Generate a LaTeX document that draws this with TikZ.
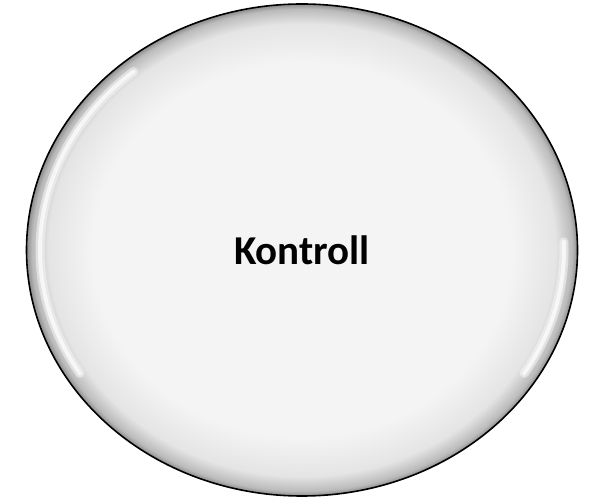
\documentclass[tikz,border=0pt]{standalone}
\usepackage{fontspec}
\setmainfont{Carlito}
\usetikzlibrary{positioning,calc,shapes.geometric}
\definecolor{bubblerim}{HTML}{8C8C8C}
\definecolor{bubblefill}{HTML}{F4F4F4}
\pgfdeclareradialshading{bubbleshade}{\pgfpoint{0bp}{0bp}}{%
  color(0bp)=(bubblefill); color(19bp)=(bubblefill); color(23bp)=(bubblefill!85!bubblerim);
  color(24.5bp)=(bubblefill!45!bubblerim); color(25bp)=(bubblerim); color(50bp)=(bubblerim)}

\begin{document}
\begin{tikzpicture}[every node/.style={font=\bfseries\fontsize{41}{49}\selectfont}]
        \useasboundingbox (0,0) rectangle (593pt,500pt);
        \tikzset{bubble/.style={ellipse,draw=black,line width=1.6pt,shading=bubbleshade,
            minimum width=551pt,minimum height=492pt,inner sep=0pt},
          gloss/.style={white,line width=9pt,line cap=round,opacity=0.45},
          glosscore/.style={white,line width=4pt,line cap=round,opacity=0.7}}
        \node[bubble] (kontroll) at (302pt,250pt) {Kontroll};
        % highlights
        \foreach \g in {gloss,glosscore}{
          \draw[\g] ($(kontroll.center)+(130:262pt and 233pt)$) arc[start angle=130,end angle=212,x radius=262pt,y radius=233pt];
          \draw[\g] ($(kontroll.center)+(2:262pt and 233pt)$) arc[start angle=2,end angle=-32,x radius=262pt,y radius=233pt];
        }
      \end{tikzpicture}
\end{document}
